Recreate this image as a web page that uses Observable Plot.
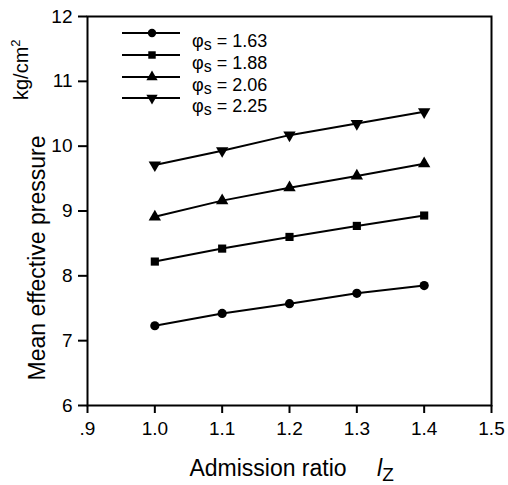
<!DOCTYPE html>
<html><head><meta charset="utf-8">
<script src="https://cdn.jsdelivr.net/npm/d3@7"></script>
<script src="https://cdn.jsdelivr.net/npm/@observablehq/plot@0.6"></script>
<style>body{margin:0;background:#fff}</style>
</head><body><div id="chart"></div>
<script>
const admission = [1.0, 1.1, 1.2, 1.3, 1.4];
const seriesNames = ["1.63", "1.88", "2.06", "2.25"];
const phi163 = [7.23, 7.42, 7.57, 7.73, 7.85];
const phi188 = [8.22, 8.42, 8.60, 8.77, 8.93];
const phi206 = [8.91, 9.16, 9.36, 9.54, 9.73];
const phi225 = [9.71, 9.93, 10.17, 10.35, 10.53];
const xTicks = [0.9, 1.0, 1.1, 1.2, 1.3, 1.4, 1.5];
const xTickLabels = [".9", "1.0", "1.1", "1.2", "1.3", "1.4", "1.5"];
const yTicks = [6, 7, 8, 9, 10, 11, 12];

const seriesValues = [phi163, phi188, phi206, phi225];
const data = [];
seriesNames.forEach((s, i) => admission.forEach((x, j) => data.push({series: s, x, y: seriesValues[i][j]})));

const triangleDown = {
  draw(context, size) {
    const sqrt3 = Math.sqrt(3);
    const y = Math.sqrt(size / (sqrt3 * 3));
    context.moveTo(0, y * 2);
    context.lineTo(-sqrt3 * y, -y);
    context.lineTo(sqrt3 * y, -y);
    context.closePath();
  }
};
const symbols = [d3.symbolCircle, d3.symbolSquare, d3.symbolTriangle, triangleDown];
const font = "Liberation Sans, Arial, Helvetica, sans-serif";

const marks = [
  Plot.frame({stroke: "black", strokeWidth: 2}),
  Plot.axisX({ticks: xTicks, tickFormat: (d) => xTickLabels[xTicks.indexOf(d)], tickSize: 8, tickPadding: 8, label: null, strokeWidth: 2}),
  Plot.axisY({ticks: yTicks, tickFormat: "d", tickSize: 9, tickPadding: 6, label: null, strokeWidth: 2}),
  Plot.line(data, {x: "x", y: "y", z: "series", stroke: "black", strokeWidth: 2})
];
seriesNames.forEach((s, i) => {
  marks.push(Plot.dot(data.filter(d => d.series === s), {x: "x", y: "y", symbol: symbols[i], fill: "black", stroke: "none", r: 4.6}));
});

const chart = Plot.plot({
  width: 508, height: 485,
  marginLeft: 87, marginTop: 16, marginRight: 17, marginBottom: 80,
  style: {fontFamily: font, fontSize: "19px", color: "black", background: "white"},
  x: {domain: [0.9, 1.5]},
  y: {domain: [6, 12]},
  marks
});
document.getElementById("chart").append(chart);

const svg = d3.select(chart);

// Legend and axis titles
const lg = svg.append("g").attr("font-family", font).attr("fill", "black").attr("text-anchor", "start");
const legendY = [33, 55, 77, 98];
seriesNames.forEach((s, i) => {
  const y = legendY[i];
  lg.append("line").attr("x1", 122).attr("x2", 180).attr("y1", y).attr("y2", y).attr("stroke", "black").attr("stroke-width", 2);
  lg.append("path").attr("transform", `translate(152,${y})`).attr("d", d3.symbol(symbols[i], Math.PI * 4.2 * 4.2)()).attr("fill", "black");
  const t = lg.append("text").attr("x", 192).attr("y", y + 14).attr("font-size", 18);
  t.append("tspan").text("φ");
  t.append("tspan").attr("font-size", 16).attr("dy", 3).text("s");
  t.append("tspan").attr("dy", -3).text(" = " + s);
});

svg.append("text").attr("font-family", font).attr("font-size", 23).attr("text-anchor", "middle")
  .attr("transform", "translate(45,258) rotate(-90)").text("Mean effective pressure");
const kg = svg.append("text").attr("font-family", font).attr("font-size", 20).attr("text-anchor", "start")
  .attr("transform", "translate(28,100) rotate(-90)");
kg.append("tspan").text("kg/cm");
kg.append("tspan").attr("font-size", 13).attr("dy", -8).text("2");

svg.append("text").attr("font-family", font).attr("font-size", 23).attr("text-anchor", "middle")
  .attr("x", 268).attr("y", 476).text("Admission ratio");
const lz = svg.append("text").attr("font-family", font).attr("font-size", 23).attr("text-anchor", "start").attr("x", 377).attr("y", 476);
lz.append("tspan").attr("font-style", "italic").text("l");
lz.append("tspan").attr("font-size", 19).attr("dy", 5).text("Z");
</script></body></html>
